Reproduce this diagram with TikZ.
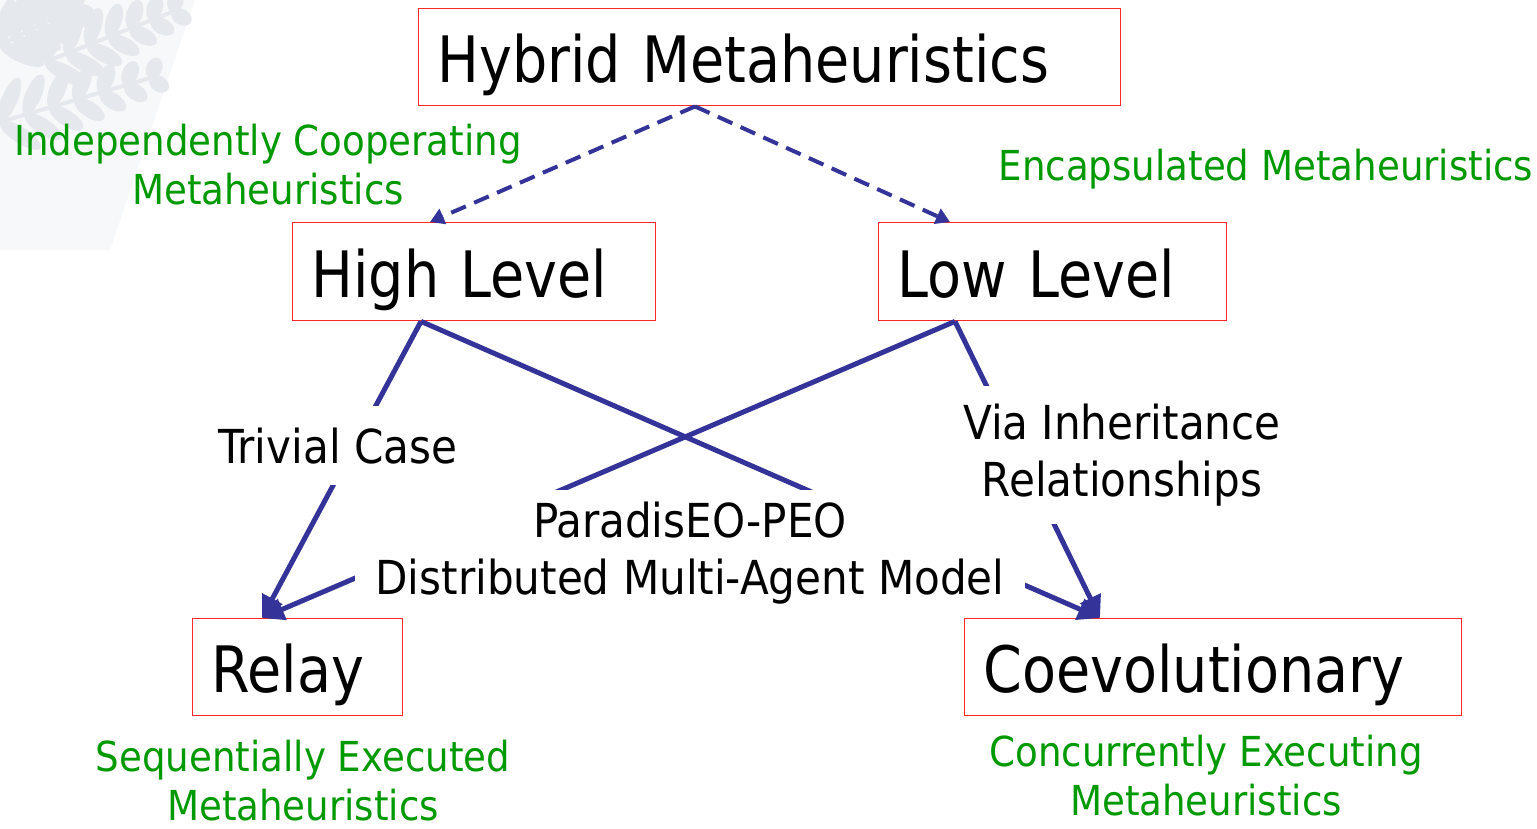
\documentclass[tikz,border=0pt]{standalone}
\usepackage{fontspec}
\setmainfont{DejaVu Sans Condensed}
\newfontfamily\boxfont[FakeStretch=0.965]{DejaVu Sans Condensed}
\usetikzlibrary{arrows.meta}
\definecolor{linkblue}{RGB}{51,51,153}
\definecolor{notegreen}{RGB}{0,153,0}
\definecolor{boxred}{RGB}{255,40,40}
\definecolor{fernleaf}{RGB}{229,233,238}
\definecolor{fernband}{RGB}{247,248,249}
% one fern frond: start x,y -- end x,y, stem angle (degrees, on the page)
\newcommand\fernfrond[5]{%
  \foreach \k in {0,...,6}{%
    \pgfmathsetmacro\px{#1+(#3-#1)*\k/6}%
    \pgfmathsetmacro\py{#2+(#4-#2)*\k/6}%
    \pgfmathsetmacro\ln{24-2.2*\k}%
    \fill[fernleaf, rotate around={#5+50:(\px,\py)}] (\px+\ln,\py) ellipse ({\ln} and 8);
    \fill[fernleaf, rotate around={#5-50:(\px,\py)}] (\px+\ln,\py) ellipse ({\ln} and 8);
  }%
  \draw[fernleaf, line width=4pt] (#1,#2) -- (#3,#4);
}
\begin{document}
\begin{tikzpicture}[x=1pt, y=-1pt,
  levelbox/.style={draw=boxred, line width=1.4pt, anchor=north west, align=left,
    inner xsep=19pt, inner ysep=0pt, font=\boxfont\fontsize{64}{70}\selectfont,
    text height=51pt, text depth=0pt},
  cutlabel/.style={fill=white, align=center, inner xsep=20pt,
    font=\fontsize{46.8}{57}\selectfont},
  greennote/.style={text=notegreen, align=center, inner sep=0pt,
    font=\fontsize{41.3}{49}\selectfont},
  dashlink/.style={draw=linkblue, line width=4pt, dash pattern=on 16pt off 9pt,
    -{Triangle[length=14pt,width=16pt]}},
  solidlink/.style={draw=linkblue, line width=5pt,
    -{Triangle[length=22pt,width=22pt]}}]
\useasboundingbox (0,0) rectangle (1537,828);

% faint fern in the corner
\fill[fernband] (0,0) -- (195,0) -- (110,250) -- (0,250) -- cycle;
\fernfrond{45}{62}{172}{12}{22}
\fernfrond{0}{122}{150}{78}{17}
\fernfrond{0}{45}{75}{8}{26}

% boxes
\node[levelbox, minimum width=702pt, minimum height=97pt, text width=664pt] (hm) at (418,8) {Hybrid Metaheuristics};
\node[levelbox, minimum width=363pt, minimum height=98pt, text width=325pt] (hl) at (292,222) {High Level};
\node[levelbox, minimum width=348pt, minimum height=98pt, text width=310pt] (ll) at (878,222) {Low Level};
\node[levelbox, minimum width=210pt, minimum height=97pt, text width=172pt] (rl) at (192,618) {Relay};
\node[levelbox, minimum width=497pt, minimum height=97pt, text width=459pt] (co) at (964,618) {Coevolutionary};

% connection points on the box edges
\coordinate (hmS) at ([xshift=277pt]hm.south west);
\coordinate (hlN) at ([xshift=138pt]hl.north west);
\coordinate (llN) at ([xshift=72pt]ll.north west);
\coordinate (hlS) at ([xshift=129pt]hl.south west);
\coordinate (llS) at ([xshift=77pt]ll.south west);
\coordinate (rlN) at ([xshift=70pt]rl.north west);
\coordinate (coN) at ([xshift=136pt]co.north west);

% connectors
\draw[dashlink] (hmS) -- (hlN);
\draw[dashlink] (hmS) -- (llN);
\draw[solidlink] (hlS) -- (rlN);
\draw[solidlink] (hlS) -- (coN);
\draw[solidlink] (llS) -- (rlN);
\draw[solidlink] (llS) -- (coN);

% labels on the connectors
\node[cutlabel, inner ysep=12pt] (peo) at (690,553) {ParadisEO-PEO\\Distributed Multi-Agent Model};
\node[cutlabel, anchor=base, inner ysep=22pt, text height=35pt, text depth=0pt] (trivial) at (338,463) {Trivial Case};
\node[cutlabel, inner ysep=18pt, inner xsep=6pt] (inherit) at (1122,455) {Via Inheritance\\Relationships};

% notes
\node[greennote] (indep) at (268,165) {Independently Cooperating\\Metaheuristics};
\node[greennote, anchor=base] (encap) at (1266,180) {Encapsulated Metaheuristics};
\node[greennote] (seq) at (303,781) {Sequentially Executed\\Metaheuristics};
\node[greennote] (conc) at (1206,776) {Concurrently Executing\\Metaheuristics};
\end{tikzpicture}
\end{document}
